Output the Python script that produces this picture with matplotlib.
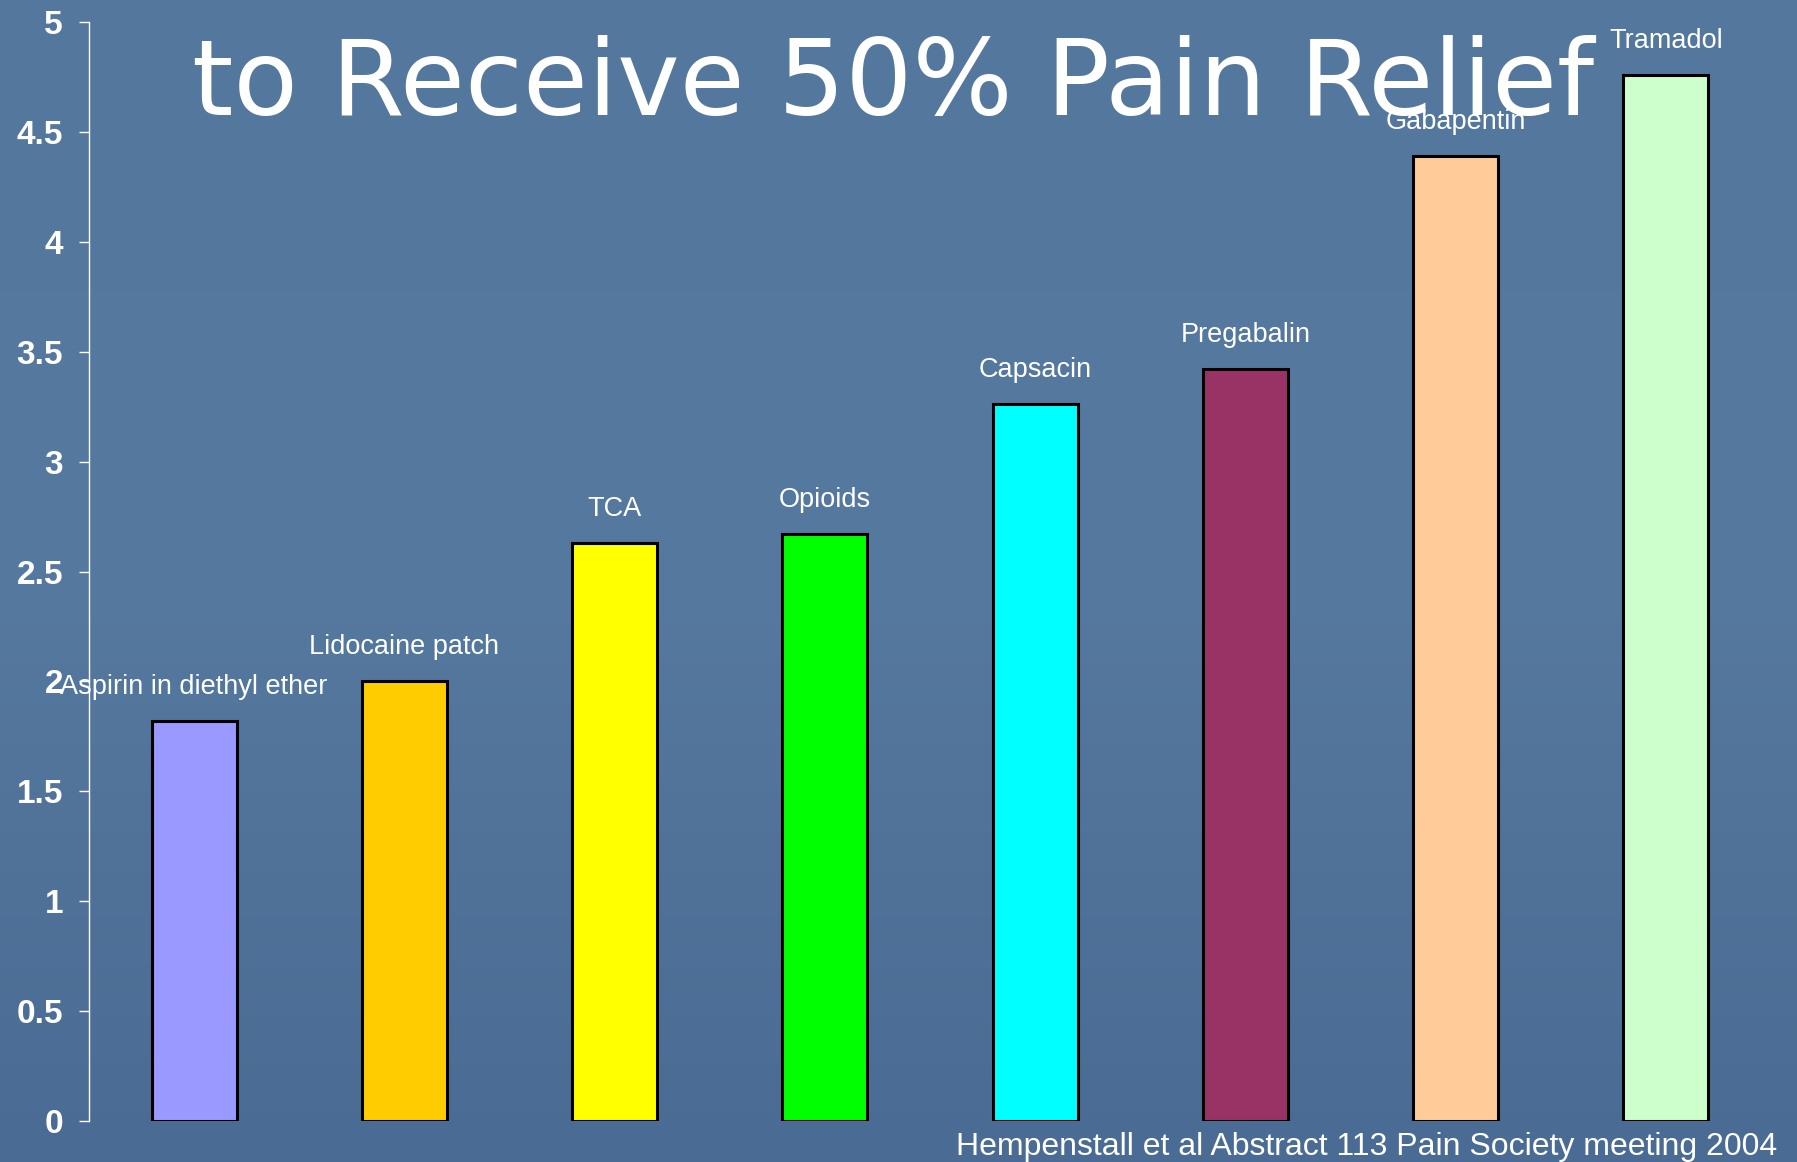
import numpy as np
import matplotlib
matplotlib.use("Agg")
import matplotlib.pyplot as plt
from matplotlib.colors import LinearSegmentedColormap

# --- data ---
drugs = ["Aspirin in diethyl ether", "Lidocaine patch", "TCA", "Opioids",
         "Capsacin", "Pregabalin", "Gabapentin", "Tramadol"]
values = [1.82, 2.00, 2.63, 2.67, 3.26, 3.42, 4.39, 4.76]
bar_colors = ["#9999ff", "#ffcc00", "#ffff00", "#00ff00",
              "#00ffff", "#993366", "#ffcc99", "#ccffcc"]
yticks = [0, 0.5, 1, 1.5, 2, 2.5, 3, 3.5, 4, 4.5, 5]
ytick_labels = ["0", "0.5", "1", "1.5", "2", "2.5", "3", "3.5", "4", "4.5", "5"]

title = "to Receive 50% Pain Relief"
source = "Hempenstall et al Abstract 113 Pain Society meeting 2004"

W, H = 1797, 1162
fig = plt.figure(figsize=(W / 100, H / 100), dpi=100)

# slide background: soft blue gradient
bg = fig.add_axes([0, 0, 1, 1], zorder=0)
bg_cmap = LinearSegmentedColormap.from_list("slide", ["#4a6b93", "#56799f", "#54779d"])
bg.imshow(np.linspace(0, 1, 256)[:, None], aspect="auto", cmap=bg_cmap,
          extent=[0, 1, 0, 1], origin="lower")
bg.axis("off")

ax = fig.add_axes([89 / W, 1 - 1121 / H, (1771 - 89) / W, (1121 - 22) / H], zorder=1)
ax.patch.set_alpha(0)

x = np.arange(len(drugs))
ax.bar(x, values, width=0.405, color=bar_colors, edgecolor="black", linewidth=2.2, zorder=3)

for xi, v, name in zip(x, values, drugs):
    ax.annotate(name, (xi, v), xytext=(0, 24.5), textcoords="offset points",
                ha="center", va="center", color="white", fontsize=19.5,
                family="Liberation Sans", zorder=4)

ax.set_xlim(-0.5, len(drugs) - 0.5)
ax.set_ylim(0, 5)
ax.set_yticks(yticks)
ax.set_yticklabels(ytick_labels, fontsize=24, fontweight="bold",
                   family="Liberation Sans", color="white")
ax.tick_params(axis="y", colors="white", length=7.2, width=1, pad=11.5)
ax.set_xticks([])
for side in ["top", "right", "bottom"]:
    ax.spines[side].set_visible(False)
ax.spines["left"].set_color("white")
ax.spines["left"].set_linewidth(1)

fig.text(893 / W, 1 - 115 / H, title, ha="center", va="baseline",
         color="white", fontsize=76, family="DejaVu Sans", zorder=5)
fig.text(1777 / W, 1 - 1155 / H, source, ha="right", va="baseline",
         color="white", fontsize=23, family="Liberation Sans", zorder=5)

fig.savefig("out.png", dpi=100)
